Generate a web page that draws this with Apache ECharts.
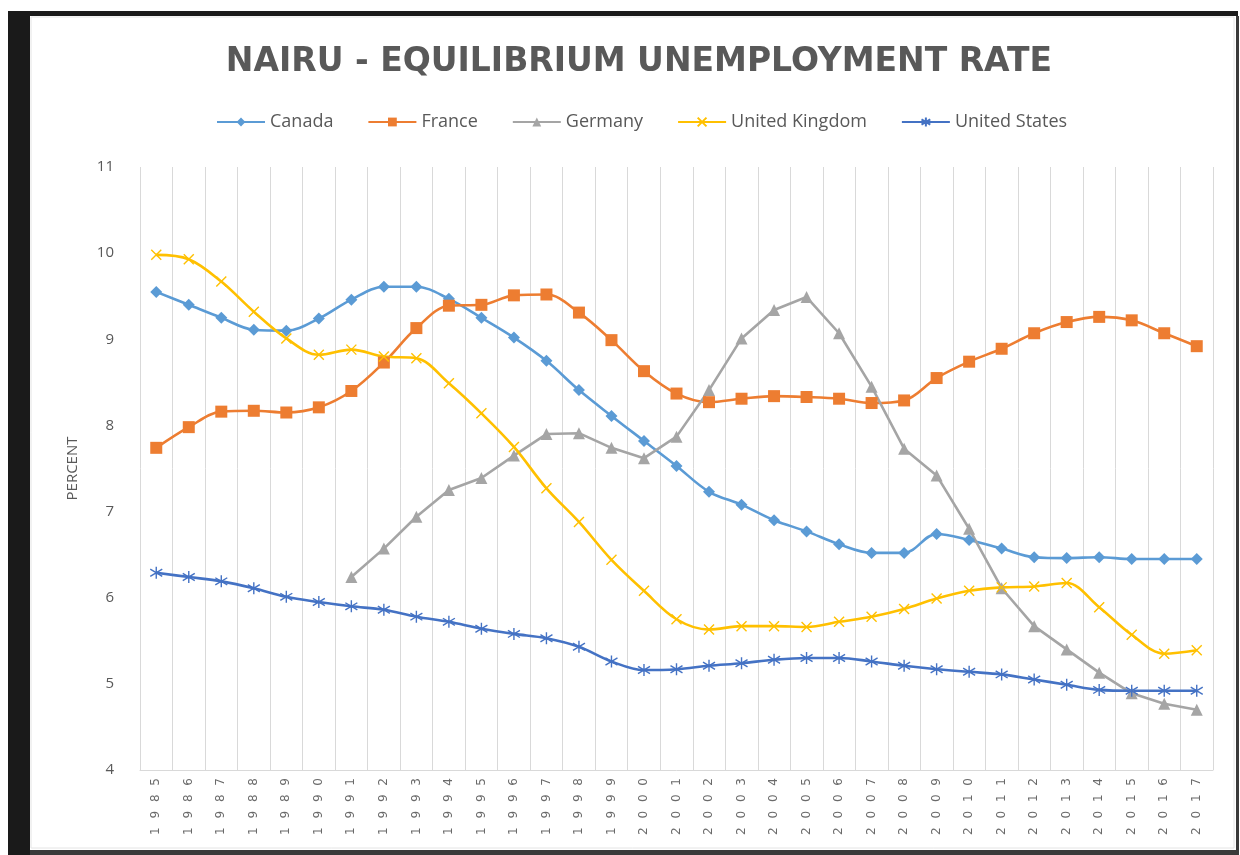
<!DOCTYPE html>
<html>
<head>
<meta charset="utf-8">
<script src="https://cdn.jsdelivr.net/npm/echarts@6/dist/echarts.min.js"></script>
<style>
  html, body { margin: 0; padding: 0; background: #fff; }
  #chart { width: 1240px; height: 855px; }
</style>
</head>
<body>
<div id="chart"></div>
<script>
// years on the x axis
var years = ['1985','1986','1987','1988','1989','1990','1991','1992','1993','1994','1995',
  '1996','1997','1998','1999','2000','2001','2002','2003','2004','2005','2006',
  '2007','2008','2009','2010','2011','2012','2013','2014','2015','2016','2017']

var canada = [9.55,9.40,9.25,9.11,9.10,9.24,9.46,9.61,9.61,9.47,9.25,9.02,8.75,8.41,8.11,7.82,
  7.53,7.23,7.08,6.90,6.77,6.62,6.52,6.52,6.74,6.67,6.57,6.47,6.46,6.47,6.45,6.45,6.45]
var france = [7.74,7.98,8.16,8.17,8.15,8.21,8.40,8.73,9.13,9.39,9.40,9.51,9.52,9.31,8.99,8.63,
  8.37,8.27,8.31,8.34,8.33,8.31,8.26,8.29,8.55,8.74,8.89,9.07,9.20,9.26,9.22,9.07,8.92]
var germany = [null,null,null,null,null,null,6.24,6.57,6.94,7.25,7.39,7.65,7.90,7.91,7.74,7.62,
  7.87,8.41,9.01,9.34,9.49,9.07,8.45,7.73,7.42,6.80,6.11,5.67,5.40,5.13,4.89,4.77,4.70]
var uk = [9.98,9.93,9.67,9.32,9.01,8.82,8.88,8.80,8.78,8.49,8.14,7.75,7.27,6.88,6.44,6.08,
  5.75,5.63,5.67,5.67,5.66,5.72,5.78,5.87,5.99,6.08,6.12,6.13,6.17,5.89,5.57,5.35,5.39]
var us = [6.29,6.24,6.19,6.11,6.01,5.95,5.90,5.86,5.78,5.72,5.64,5.58,5.53,5.43,5.26,5.16,
  5.17,5.21,5.24,5.28,5.30,5.30,5.26,5.21,5.17,5.14,5.11,5.05,4.99,4.93,4.92,4.92,4.92]

var yTicks = [4, 11, 1] // min, max, step

var myChart = echarts.init(document.getElementById('chart'))

function lineSeries(name, data, color, symbol, size, smooth) {
  return {
    name: name,
    type: 'line',
    data: data,
    smooth: smooth,
    symbol: symbol,
    symbolSize: size,
    showAllSymbol: true,
    connectNulls: false,
    lineStyle: { color: color, width: 2.6 },
    itemStyle: { color: color, borderColor: color, borderWidth: symbol.indexOf('path://') === 0 ? 1.4 : 0 },
    emphasis: { disabled: true }
  }
}

var xPath = 'path://M0,0L10,10M10,0L0,10'
var starPath = 'path://M5,0L5,10M0,2L10,8M0,8L10,2'

var option = {
  backgroundColor: '#fff',
  animation: false,
  title: {
    text: 'NAIRU - EQUILIBRIUM UNEMPLOYMENT RATE',
    left: 634,
    top: 41,
    textAlign: 'center',
    textStyle: {
      fontFamily: 'DejaVu Sans',
      fontWeight: 'bold',
      fontSize: 33,
      color: '#595959'
    }
  },
  legend: {
    top: 108,
    left: 211,
    itemWidth: 48,
    itemHeight: 11,
    itemGap: 34,
    textStyle: { fontFamily: 'Open Sans', fontSize: 18, color: '#595959' },
    data: ['Canada', 'France', 'Germany', 'United Kingdom', 'United States']
  },
  graphic: [
    { type: 'rect', shape: { x: 8, y: 11, width: 22, height: 844 }, style: { fill: '#1a1a1a' } },
    { type: 'rect', shape: { x: 8, y: 11, width: 1230, height: 5 }, style: { fill: '#1a1a1a' } },
    { type: 'rect', shape: { x: 1236, y: 16, width: 3, height: 839 }, style: { fill: '#3a3a3a' } },
    { type: 'rect', shape: { x: 30, y: 850, width: 1208, height: 5 }, style: { fill: '#3a3a3a' } },
    { type: 'rect', shape: { x: 31, y: 17, width: 1203, height: 831 }, style: { fill: 'none', stroke: '#e4e4e4', lineWidth: 1 } }
  ],
  grid: { left: 140, right: 27, top: 167, bottom: 85, containLabel: false },
  xAxis: {
    type: 'category',
    data: years,
    boundaryGap: true,
    axisLine: { lineStyle: { color: '#d9d9d9' } },
    axisTick: { show: false },
    splitLine: { show: true, lineStyle: { color: '#d9d9d9', width: 1 } },
    axisLabel: {
      rotate: 90,
      interval: 0,
      margin: 8,
      fontFamily: 'DejaVu Sans',
      fontSize: 12,
      color: '#6a6a6a',
      formatter: function (v) { return v.split('').join('\u2007\u200A') }
    }
  },
  yAxis: {
    type: 'value',
    min: yTicks[0],
    max: yTicks[1],
    interval: yTicks[2],
    name: 'PERCENT',
    nameLocation: 'middle',
    nameGap: 60,
    nameTextStyle: { fontFamily: 'Open Sans', fontSize: 15, color: '#595959' },
    axisLine: { show: false },
    axisTick: { show: false },
    splitLine: { show: false },
    axisLabel: { fontFamily: 'Open Sans', fontSize: 15, color: '#595959', margin: 26 }
  },
  series: [
    lineSeries('Canada', canada, '#5B9BD5', 'diamond', 12, 0.35),
    lineSeries('France', france, '#ED7D31', 'rect', 12, 0.35),
    lineSeries('Germany', germany, '#A5A5A5', 'triangle', 12, false),
    lineSeries('United Kingdom', uk, '#FFC000', xPath, 10, 0.35),
    lineSeries('United States', us, '#4472C4', starPath, 12, 0.35)
  ]
}

myChart.setOption(option)
</script>
</body>
</html>
